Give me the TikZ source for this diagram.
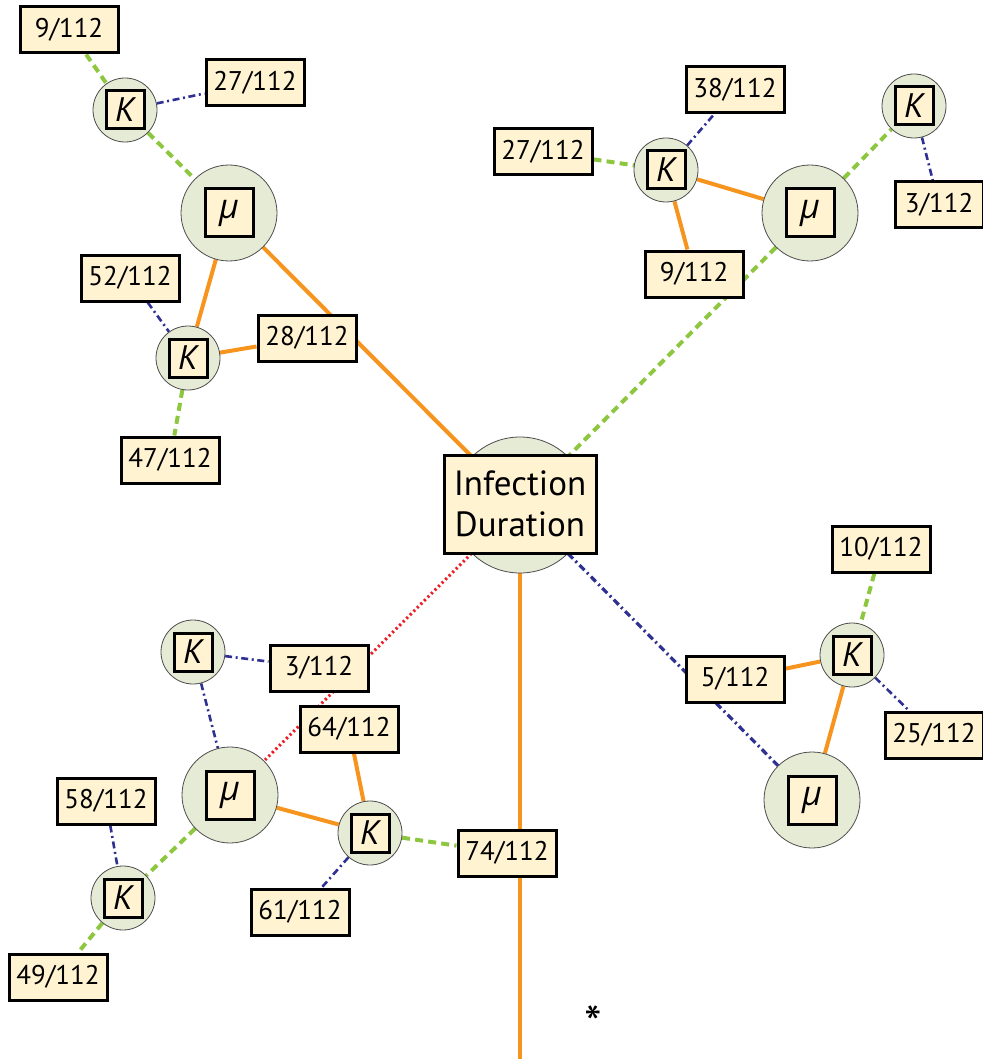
\documentclass[tikz,border=0pt]{standalone}
\usepackage{fontspec}
\setmainfont{PT Sans}
\newfontfamily\greekfont{Open Sans}
\usetikzlibrary{backgrounds}
\definecolor{cream}{HTML}{FFF3D2}
\definecolor{sage}{HTML}{E6EBD5}
\definecolor{oline}{HTML}{F7941D}
\definecolor{gline}{HTML}{8DC63F}
\definecolor{bline}{HTML}{2E3192}
\definecolor{rline}{HTML}{ED1C24}

\begin{document}
\begin{tikzpicture}[
  x=0.5pt, y=-0.5pt,
  valbox/.style={rectangle, draw, line width=1.5pt, fill=cream, minimum width=49pt, minimum height=23pt, inner sep=0pt, font=\fontsize{13.5}{15}\selectfont},
  kcirc/.style={circle, draw=black!70, line width=0.4pt, fill=sage, minimum size=32pt, inner sep=0pt},
  mucirc/.style={kcirc, minimum size=48pt},
  kbox/.style={rectangle, draw, line width=1.5pt, fill=cream, minimum size=19pt, inner sep=0pt, font=\fontsize{17}{19}\selectfont\itshape},
  mubox/.style={kbox, minimum size=24pt},
  orange link/.style={oline, line width=2pt},
  green link/.style={gline, line width=2pt, dash pattern=on 4pt off 2.6pt},
  blue link/.style={bline, line width=1.3pt, dash pattern=on 3.5pt off 1.8pt on 1pt off 1.8pt},
  red link/.style={rline, line width=1.5pt, dash pattern=on 1.1pt off 1.4pt}
]
\useasboundingbox (0,0) rectangle (983,1059);

% centre
\node[circle, fill=sage, draw=black!70, line width=0.4pt, minimum size=68pt] (idc) at (520,505) {};
\node[valbox, minimum width=76pt, minimum height=49pt, align=center, font=\fontsize{17.5}{20.5}\selectfont] (id) at (520,504) {Infection\\Duration};
\coordinate (bot) at (520,1059);

% top left
\node[valbox] (v9a) at (69,30) {9/112};
\node[kcirc] (k1) at (125,110) {};
\node[kbox] (k1t) at (k1) {K};
\node[valbox] (v27a) at (255,83) {27/112};
\node[mucirc] (m1) at (229,213) {};
\node[mubox] (m1t) at (m1) {\greekfont μ};
\node[valbox] (v52) at (130,278) {52/112};
\node[kcirc] (k2) at (188,358) {};
\node[kbox] (k2t) at (k2) {K};
\node[valbox] (v28) at (307,338) {28/112};
\node[valbox] (v47) at (170,460) {47/112};

% top right
\node[valbox] (v38) at (735,90) {38/112};
\node[valbox] (v27b) at (543,152) {27/112};
\node[kcirc] (k3) at (666,170) {};
\node[kbox] (k3t) at (k3) {K};
\node[mucirc] (m2) at (810,213) {};
\node[mubox] (m2t) at (m2) {\greekfont μ};
\node[kcirc] (k4) at (914,106) {};
\node[kbox] (k4t) at (k4) {K};
\node[valbox, minimum width=44pt] (v3a) at (939,205) {3/112};
\node[valbox] (v9b) at (694,274) {9/112};

% bottom left
\node[kcirc] (k5) at (193,652) {};
\node[kbox] (k5t) at (k5) {K};
\node[valbox] (v3b) at (319,668) {3/112};
\node[valbox] (v64) at (349,729) {64/112};
\node[mucirc] (m3) at (230,795) {};
\node[mubox] (m3t) at (m3) {\greekfont μ};
\node[kcirc] (k6) at (370,833) {};
\node[kbox] (k6t) at (k6) {K};
\node[valbox] (v74) at (507,853) {74/112};
\node[valbox] (v58) at (106,801) {58/112};
\node[kcirc] (k7) at (123,898) {};
\node[kbox] (k7t) at (k7) {K};
\node[valbox] (v61) at (300,912) {61/112};
\node[valbox] (v49) at (58,977) {49/112};

% bottom right
\node[valbox] (v10) at (881,549) {10/112};
\node[kcirc] (k8) at (852,655) {};
\node[kbox] (k8t) at (k8) {K};
\node[valbox] (v5) at (735,679) {5/112};
\node[valbox] (v25) at (934,735) {25/112};
\node[mucirc] (m4) at (812,800) {};
\node[mubox] (m4t) at (m4) {\greekfont μ};

\node[font=\fontsize{25}{27}\selectfont, inner sep=0pt, anchor=base] (star) at (593,1041) {*};

\begin{scope}[on background layer]
\draw[orange link] (m1) -- (idc);
\draw[orange link] (m1) -- (k2);
\draw[orange link] (k2) -- (v28);
\draw[green link] (v9a) -- (k1);
\draw[green link] (k1) -- (m1);
\draw[blue link] (k1) -- (v27a);
\draw[blue link] (v52) -- (k2);
\draw[green link] (k2) -- (v47);

\draw[green link] (m2) -- (idc);
\draw[green link] (v27b) -- (k3);
\draw[blue link] (k3) -- (v38);
\draw[orange link] (k3) -- (m2);
\draw[orange link] (k3) -- (v9b);
\draw[green link] (m2) -- (k4);
\draw[blue link] (k4) -- (v3a);

\draw[red link] (idc) -- (m3);
\draw[blue link] (k5) -- (v3b);
\draw[blue link] (k5) -- (m3);
\draw[orange link] (m3) -- (k6);
\draw[orange link] (v64) -- (k6);
\draw[green link] (k6) -- (v74);
\draw[blue link] (k6) -- (v61);
\draw[green link] (m3) -- (k7);
\draw[green link] (k7) -- (v49);
\draw[blue link] (v58) -- (k7);

\draw[orange link] (idc) -- (bot);

\draw[blue link, line width=1.6pt] (idc) -- (m4);
\draw[orange link] (v5) -- (k8);
\draw[orange link] (k8) -- (m4);
\draw[green link] (v10) -- (k8);
\draw[blue link] (k8) -- (v25);
\end{scope}
\end{tikzpicture}
\end{document}
